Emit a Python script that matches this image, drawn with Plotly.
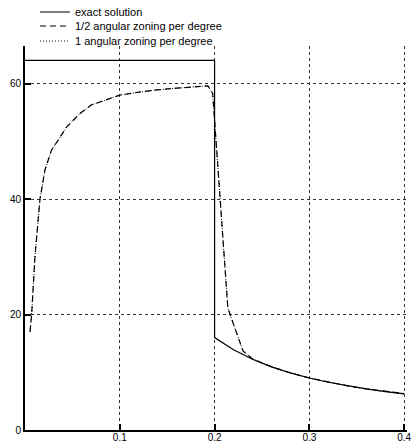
import plotly.graph_objects as go

# Exact solution: flat post-shock plateau, then the pre-shock profile
exact_x = [0.0, 0.2, 0.2, 0.21, 0.22, 0.24, 0.26, 0.28, 0.30, 0.32, 0.34, 0.36, 0.38, 0.40]
exact_y = [64.0, 64.0, 16.0, 14.88, 13.89, 12.25, 10.94, 9.88, 9.0, 8.27, 7.64, 7.11, 6.65, 6.25]

# 1/2 angular zoning per degree
half_x = [0.0053, 0.007, 0.0105, 0.0158, 0.021, 0.028, 0.035, 0.044, 0.058, 0.070, 0.079,
          0.10, 0.12, 0.139, 0.16, 0.174, 0.193, 0.198, 0.214, 0.230, 0.24, 0.26,
          0.28, 0.30, 0.32, 0.34, 0.36, 0.38, 0.40]
half_y = [17.0, 20.0, 30.0, 40.0, 45.0, 48.5, 50.2, 52.5, 54.8, 56.3, 56.8,
          58.0, 58.5, 58.9, 59.2, 59.4, 59.6, 58.3, 21.1, 13.7, 12.3, 10.95,
          9.9, 9.0, 8.28, 7.65, 7.12, 6.66, 6.3]

# 1 angular zoning per degree
one_x = [0.0053, 0.007, 0.0105, 0.0158, 0.021, 0.028, 0.035, 0.044, 0.058, 0.070, 0.079,
         0.10, 0.12, 0.139, 0.16, 0.174, 0.193, 0.198, 0.214, 0.230, 0.24, 0.26,
         0.28, 0.30, 0.32, 0.34, 0.36, 0.38, 0.40]
one_y = [17.0, 20.0, 30.0, 40.0, 45.0, 48.5, 50.2, 52.5, 54.8, 56.3, 56.8,
         58.0, 58.5, 58.9, 59.2, 59.4, 59.6, 58.3, 21.1, 13.7, 12.3, 10.95,
         9.9, 9.0, 8.28, 7.65, 7.12, 6.66, 6.3]

x_ticks = [0.1, 0.2, 0.3, 0.4]
x_tick_labels = ["0.1", "0.2", "0.3", "0.4"]
y_ticks = [0, 20, 40, 60]
y_tick_labels = ["0", "20", "40", "60"]

FONT = "Liberation Sans, Arial, sans-serif"
W, H = 411, 444

fig = go.Figure()
fig.add_trace(go.Scatter(x=exact_x, y=exact_y, mode="lines", name="exact solution",
                         line=dict(color="black", width=1.2), legend="legend"))
fig.add_trace(go.Scatter(x=half_x, y=half_y, mode="lines", name="1/2 angular zoning per degree",
                         line=dict(color="black", width=1.2, dash="6px,4px"), legend="legend2"))
fig.add_trace(go.Scatter(x=one_x, y=one_y, mode="lines", name="1 angular zoning per degree",
                         line=dict(color="black", width=1, dash="1px,2px"), legend="legend3"))


def legend_box(center_px):
    # one single-entry legend per series, stacked in the top-left corner
    return dict(xref="container", yref="container", x=35 / W, y=1 - center_px / H,
                xanchor="left", yanchor="middle", bgcolor="rgba(0,0,0,0)",
                font=dict(size=11), itemwidth=30)


axis_common = dict(showgrid=True, gridcolor="#333", griddash="dot", gridwidth=1,
                   showline=True, linecolor="black", linewidth=2,
                   ticks="inside", ticklen=6, tickcolor="black", tickwidth=1.5,
                   zeroline=False, automargin=False)

fig.update_layout(
    width=W, height=H,
    margin=dict(l=25, r=4, t=46, b=14, autoexpand=False),
    paper_bgcolor="white", plot_bgcolor="white",
    font=dict(family=FONT, size=10, color="black"),
    showlegend=True,
    legend=legend_box(12),
    legend2=legend_box(26),
    legend3=legend_box(41),
    xaxis=dict(range=[0, 0.403], tickvals=x_ticks, ticktext=x_tick_labels,
               ticklabelstandoff=-3, ticklabeloverflow="allow", **axis_common),
    yaxis=dict(range=[0, 66.5], tickvals=y_ticks, ticktext=y_tick_labels,
               ticklabeloverflow="allow", **axis_common),
)

fig.write_html("out.html")
